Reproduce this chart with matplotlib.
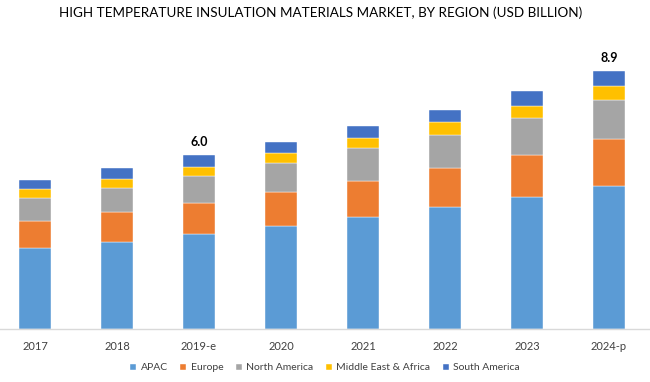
import matplotlib
matplotlib.use("Agg")
import matplotlib.pyplot as plt
import numpy as np

years = ["2017", "2018", "2019-e", "2020", "2021", "2022", "2023", "2024-p"]
apac = [2.80, 3.00, 3.27, 3.55, 3.85, 4.20, 4.55, 4.93]
europe = [0.93, 1.02, 1.08, 1.18, 1.26, 1.35, 1.46, 1.62]
north_america = [0.79, 0.84, 0.93, 0.99, 1.12, 1.15, 1.28, 1.37]
mea = [0.30, 0.30, 0.31, 0.36, 0.35, 0.43, 0.42, 0.48]
south_america = [0.32, 0.38, 0.40, 0.39, 0.44, 0.44, 0.51, 0.50]
series_names = ["APAC", "Europe", "North America", "Middle East & Africa", "South America"]
colors = ["#5B9BD5", "#ED7D31", "#A5A5A5", "#FFC000", "#4472C4"]
labels_shown = {2: "6.0", 7: "8.9"}

plt.rcParams['font.family'] = ['Lato', 'DejaVu Sans']

fig = plt.figure(figsize=(6.5, 3.82), dpi=100)
W, H = 650, 382
ax = fig.add_axes([0, 53.5 / H, 1, 289 / H])

x = np.arange(len(years))
series = [apac, europe, north_america, mea, south_america]
bottom = np.zeros(len(years))
handles = []
for vals, name, c in zip(series, series_names, colors):
    b = ax.bar(x, vals, width=0.39, bottom=bottom, color=c, label=name,
               edgecolor="white", linewidth=0.3)
    handles.append(b)
    bottom += np.array(vals)

for i, txt in labels_shown.items():
    ax.text(x[i], bottom[i] + 0.25, txt, ha="center", va="bottom",
            fontsize=9, fontweight="bold", color="#000000")

ax.set_xlim(-35 / 82, (650 - 35) / 82)
ax.set_ylim(0, 10)
ax.set_yticks([])
ax.set_xticks(x)
ax.set_xticklabels(years, fontsize=8, color="#404040")
ax.tick_params(axis="x", length=0, pad=9)
for s in ["top", "right", "left"]:
    ax.spines[s].set_visible(False)
ax.spines["bottom"].set_color("#D9D9D9")
ax.spines["bottom"].set_linewidth(1)

fig.text(321 / W, 1 - 13 / H, "HIGH TEMPERATURE INSULATION MATERIALS MARKET, BY REGION (USD BILLION)",
         ha="center", va="center", fontsize=9.7, color="#000000")

fig.legend(handles=handles, labels=series_names, loc="center",
           bbox_to_anchor=(325 / W, 1 - 368 / H), ncol=5, frameon=False,
           fontsize=7.5, handlelength=0.6, handleheight=0.6, handletextpad=0.4,
           columnspacing=1.2, labelcolor="#404040")

fig.savefig("out.png", dpi=100)
